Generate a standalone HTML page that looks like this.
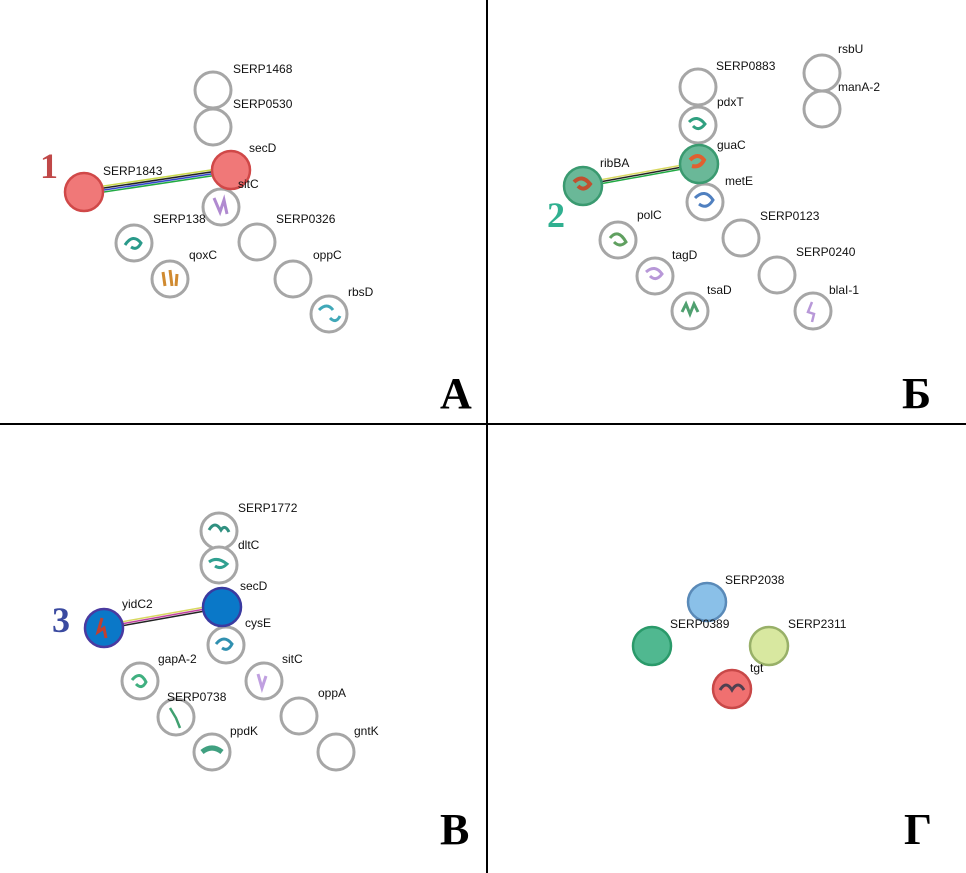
<!DOCTYPE html>
<html><head><meta charset="utf-8"><style>
html,body{margin:0;padding:0;background:#fff;}
svg{display:block;}
text{font-family:"Liberation Sans",sans-serif;font-size:12px;fill:#111;}
.big{font-family:"Liberation Serif",serif;font-weight:bold;font-size:44px;fill:#000;}
.num{font-family:"Liberation Serif",serif;font-weight:bold;font-size:36px;}
.n{fill:#fff;stroke:#a6a6a6;stroke-width:3;}
</style></head><body>
<svg width="966" height="873" viewBox="0 0 966 873" xmlns="http://www.w3.org/2000/svg">
<line x1="487" y1="0" x2="487" y2="873" stroke="#000" stroke-width="2"/>
<line x1="0" y1="424" x2="966" y2="424" stroke="#000" stroke-width="2"/>
<text class="big" x="440" y="408">А</text>
<text class="big" x="902" y="408">Б</text>
<text class="big" x="440" y="844">В</text>
<text class="big" x="904" y="844">Г</text>

<!-- A -->
<line x1="84" y1="189" x2="231" y2="167" stroke="#c8d84a" stroke-width="1.5"/>
<line x1="84" y1="191" x2="231" y2="169" stroke="#222" stroke-width="1.5"/>
<line x1="84" y1="193" x2="231" y2="171" stroke="#3344cc" stroke-width="1.5"/>
<line x1="84" y1="195" x2="231" y2="173" stroke="#22aa44" stroke-width="1.5"/>
<circle class="n" cx="213" cy="90" r="18"/>
<circle class="n" cx="213" cy="127" r="18"/>
<circle class="n" cx="221" cy="207" r="18"/>
<path d="M214 198 l6 14 l4-12 l3 14" stroke="#b08ad0" stroke-width="3" fill="none"/>
<circle class="n" cx="134" cy="243" r="18"/>
<path d="M125 245 q8-12 16-2 q-4 8-10 4" stroke="#2a9a8a" stroke-width="3" fill="none"/>
<circle class="n" cx="170" cy="279" r="18"/>
<path d="M163 272 l2 14 M170 270 l2 16 M177 274 l-1 12" stroke="#d08a30" stroke-width="3" fill="none"/>
<circle class="n" cx="257" cy="242" r="18"/>
<circle class="n" cx="293" cy="279" r="18"/>
<circle class="n" cx="329" cy="314" r="18"/>
<path d="M319 310 q8-8 14 0 M330 318 q6 6 10-2" stroke="#40a8b8" stroke-width="3" fill="none"/>
<circle cx="231" cy="170" r="19" fill="#f07878" stroke="#d04848" stroke-width="2.5"/>
<circle cx="84" cy="192" r="19" fill="#f07878" stroke="#d04848" stroke-width="2.5"/>
<text x="233" y="73">SERP1468</text>
<text x="233" y="108">SERP0530</text>
<text x="249" y="152">secD</text>
<text x="103" y="175">SERP1843</text>
<text x="238" y="188">sitC</text>
<text x="153" y="223">SERP138</text>
<text x="189" y="259">qoxC</text>
<text x="276" y="223">SERP0326</text>
<text x="313" y="259">oppC</text>
<text x="348" y="296">rbsD</text>
<text class="num" x="40" y="178" fill="#c04848" style="fill:#c04848">1</text>

<!-- Б -->
<line x1="583" y1="183" x2="699" y2="162" stroke="#d8d860" stroke-width="1.5"/>
<line x1="583" y1="185" x2="699" y2="164" stroke="#222" stroke-width="1.5"/>
<line x1="583" y1="187" x2="699" y2="166" stroke="#22aa44" stroke-width="1.5"/>
<circle class="n" cx="698" cy="87" r="18"/>
<circle class="n" cx="822" cy="73" r="18"/>
<circle class="n" cx="822" cy="109" r="18"/>
<circle class="n" cx="698" cy="125" r="18"/>
<path d="M689 122 q8-8 16 2 q-6 8-12 2" stroke="#30a080" stroke-width="3" fill="none"/>
<circle class="n" cx="705" cy="202" r="18"/>
<path d="M695 198 q10-10 18 2 q-6 10-14 4" stroke="#5080c0" stroke-width="3" fill="none"/>
<circle class="n" cx="618" cy="240" r="18"/>
<path d="M610 238 q8-10 16 4 q-6 6-12 0" stroke="#60a060" stroke-width="3" fill="none"/>
<circle class="n" cx="741" cy="238" r="18"/>
<circle class="n" cx="655" cy="276" r="18"/>
<path d="M646 272 q9-8 16 2 q-6 8-12 2" stroke="#b898d8" stroke-width="3" fill="none"/>
<circle class="n" cx="777" cy="275" r="18"/>
<circle class="n" cx="690" cy="311" r="18"/>
<path d="M682 312 l4-8 l4 10 l4-10 l4 8" stroke="#50a070" stroke-width="3" fill="none"/>
<circle class="n" cx="813" cy="311" r="18"/>
<path d="M812 302 l-4 10 l6 2 l-2 8" stroke="#b898d8" stroke-width="2.5" fill="none"/>
<circle cx="699" cy="164" r="19" fill="#6ab898" stroke="#3a9a70" stroke-width="2.5"/>
<path d="M690 160 q8-8 14 0 q-4 8-12 6" stroke="#e06030" stroke-width="4" fill="none"/>
<circle cx="583" cy="186" r="19" fill="#6ab898" stroke="#3a9a70" stroke-width="2.5"/>
<path d="M574 182 q8-8 16 2 q-6 8-12 2" stroke="#c05030" stroke-width="4" fill="none"/>
<text x="716" y="70">SERP0883</text>
<text x="838" y="53">rsbU</text>
<text x="838" y="91">manA-2</text>
<text x="717" y="106">pdxT</text>
<text x="717" y="149">guaC</text>
<text x="600" y="167">ribBA</text>
<text x="725" y="185">metE</text>
<text x="637" y="219">polC</text>
<text x="760" y="220">SERP0123</text>
<text x="672" y="259">tagD</text>
<text x="796" y="256">SERP0240</text>
<text x="707" y="294">tsaD</text>
<text x="829" y="294">blaI-1</text>
<text class="num" x="547" y="227" style="fill:#30b090">2</text>

<!-- В -->
<line x1="104" y1="625" x2="222" y2="604" stroke="#d8d860" stroke-width="1.5"/>
<line x1="104" y1="627" x2="222" y2="606" stroke="#c040a0" stroke-width="1.5"/>
<line x1="104" y1="629" x2="222" y2="608" stroke="#222" stroke-width="1.5"/>
<circle class="n" cx="219" cy="531" r="18"/>
<path d="M209 530 q6-10 12 0 q4-6 8 2" stroke="#309080" stroke-width="3" fill="none"/>
<circle class="n" cx="219" cy="565" r="18"/>
<path d="M209 562 q8-6 18 2 q-6 6-12 2" stroke="#30a090" stroke-width="3" fill="none"/>
<circle class="n" cx="226" cy="645" r="18"/>
<path d="M216 644 q8-10 16 0 q-4 8-10 4" stroke="#3090b0" stroke-width="3" fill="none"/>
<circle class="n" cx="140" cy="681" r="18"/>
<path d="M132 680 q8-10 14 2 q-4 8-10 2" stroke="#40b080" stroke-width="3" fill="none"/>
<circle class="n" cx="264" cy="681" r="18"/>
<path d="M258 674 l4 14 l4-12" stroke="#c0a0e0" stroke-width="3" fill="none"/>
<circle class="n" cx="176" cy="717" r="18"/>
<path d="M170 708 l6 10 l4 10" stroke="#40a070" stroke-width="2.5" fill="none"/>
<circle class="n" cx="299" cy="716" r="18"/>
<circle class="n" cx="212" cy="752" r="18"/>
<path d="M202 752 q10-8 20 0" stroke="#40a080" stroke-width="5" fill="none"/>
<circle class="n" cx="336" cy="752" r="18"/>
<circle cx="222" cy="607" r="19" fill="#0a78c8" stroke="#3a3aa0" stroke-width="2.5"/>
<circle cx="104" cy="628" r="19" fill="#0a78c8" stroke="#4a3aa0" stroke-width="2.5"/>
<path d="M102 618 l-4 14 l6-4 l2 10" stroke="#c04030" stroke-width="3" fill="none"/>
<text x="238" y="512">SERP1772</text>
<text x="238" y="549">dltC</text>
<text x="240" y="590">secD</text>
<text x="122" y="608">yidC2</text>
<text x="245" y="627">cysE</text>
<text x="158" y="663">gapA-2</text>
<text x="282" y="663">sitC</text>
<text x="167" y="701">SERP0738</text>
<text x="318" y="697">oppA</text>
<text x="230" y="735">ppdK</text>
<text x="354" y="735">gntK</text>
<text class="num" x="52" y="632" style="fill:#3a4aa0">3</text>

<!-- Г -->
<circle cx="707" cy="602" r="19" fill="#8ac0e8" stroke="#5a8ab8" stroke-width="2.5"/>
<circle cx="652" cy="646" r="19" fill="#50b890" stroke="#2a9a6a" stroke-width="2.5"/>
<circle cx="769" cy="646" r="19" fill="#d8e8a0" stroke="#98b068" stroke-width="2.5"/>
<text x="725" y="584">SERP2038</text>
<text x="670" y="628">SERP0389</text>
<text x="788" y="628">SERP2311</text>
<text x="750" y="672">tgt</text>
<circle cx="732" cy="689" r="19" fill="#f07070" stroke="#c84848" stroke-width="2.5"/>
<path d="M720 690 q6-10 12 0 q6-10 12 0" stroke="#504050" stroke-width="3" fill="none"/>
</svg>
</body></html>
